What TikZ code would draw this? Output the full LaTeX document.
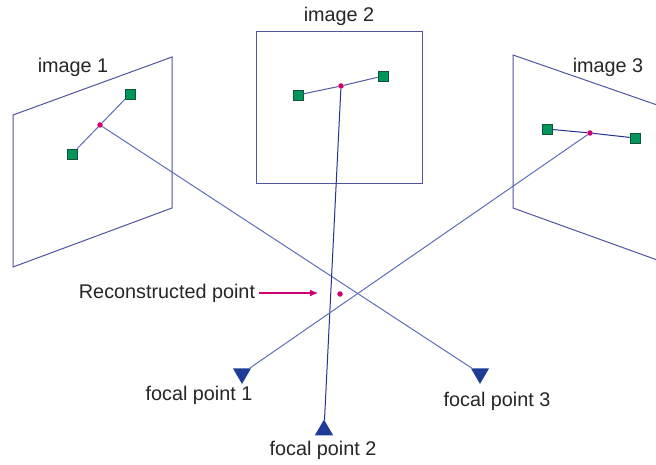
\documentclass[tikz,border=0pt]{standalone}
\usepackage{fontspec}
\setmainfont{Liberation Sans}
\usetikzlibrary{shapes.geometric,arrows.meta}
\definecolor{frameblue}{RGB}{80,85,160}
\definecolor{rayblue}{RGB}{95,110,185}
\definecolor{darkray}{RGB}{40,50,140}
\definecolor{ptgreen}{RGB}{0,150,90}
\definecolor{ptedge}{RGB}{20,80,60}
\definecolor{ptmag}{RGB}{205,0,115}
\definecolor{focblue}{RGB}{30,60,150}
\tikzset{
  frame/.style={draw=frameblue, line width=1pt},
  ray/.style={draw=rayblue, line width=1pt},
  imgpt/.style={rectangle, fill=ptgreen, draw=ptedge, line width=0.6pt, minimum size=10pt, inner sep=0pt},
  projpt/.style={circle, fill=ptmag, minimum size=5.5pt, inner sep=0pt},
  focal/.style={regular polygon, regular polygon sides=3, fill=focblue, minimum size=21pt, inner sep=0pt},
  lbl/.style={font=\fontsize{19.8}{23}\selectfont, inner sep=0pt, text=black!85},
}
\begin{document}
\begin{tikzpicture}[x=1pt,y=-1pt]
\useasboundingbox[fill=white] (0,0) rectangle (656,465);
\begin{scope}
\clip (0,0) rectangle (656,465);
% image planes
\draw[frame] (13,115) -- (172,57) -- (172,208) -- (13,267) -- cycle;
\draw[frame] (256,32) rectangle (422,184);
\draw[frame] (660,106) -- (513,55) -- (513,208) -- (660,261);
\end{scope}
% labels
\node[lbl] (l1) at (73,67) {image 1};
\node[lbl] (l2) at (339,16) {image 2};
\node[lbl] (l3) at (608,67) {image 3};
% focal points
\node[focal, rotate=180] (f1) at (242,373.5) {};
\node[focal] (f2) at (324,430) {};
\node[focal, rotate=180] (f3) at (480,373.5) {};
\node[lbl] (fl1) at (199,395) {focal point 1};
\node[lbl] (fl2) at (323,450) {focal point 2};
\node[lbl] (fl3) at (497,401) {focal point 3};
% image points
\node[projpt] (p1) at (100,125) {};
\node[imgpt] (a1) at (130,94) {};
\node[imgpt] (b1) at (72,154) {};
\node[projpt] (p2) at (341,86) {};
\node[imgpt] (a2) at (298,95) {};
\node[imgpt] (b2) at (383,76) {};
\node[projpt] (p3) at (590,133) {};
\node[imgpt] (a3) at (547,129) {};
\node[imgpt] (b3) at (635,138) {};
% in-image lines
\draw[ray] (a1) -- (p1) -- (b1);
\draw[ray, draw=darkray!80] (a2) -- (p2) -- (b2);
\draw[ray, draw=darkray] (a3) -- (p3) -- (b3);
% rays
\draw[ray] (p1) -- (f3);
\draw[ray, draw=darkray] (p2) -- (f2);
\draw[ray] (p3) -- (f1);
% reconstructed point
\node[projpt] (rp) at (340,294) {};
\node[lbl] (rl) at (167,293) {Reconstructed point};
\coordinate (rs) at (259,293);
\coordinate (ra) at (318,293);
\draw[draw=ptmag, line width=1.1pt, -{Latex[length=8pt,width=7pt]}] (rs) -- (ra);
\end{tikzpicture}
\end{document}
